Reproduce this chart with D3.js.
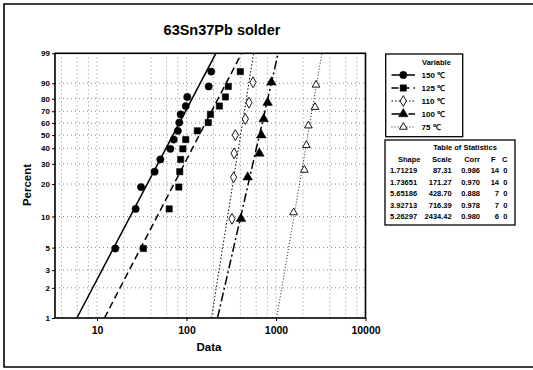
<!DOCTYPE html>
<html>
<head>
<meta charset="utf-8">
<script src="https://cdn.jsdelivr.net/npm/d3@7"></script>
<style>
  html, body { margin: 0; padding: 0; background: #fff; }
  svg { display: block; font-family: "Liberation Sans", Arial, sans-serif; }
</style>
</head>
<body>
<svg id="chart" width="533" height="370"></svg>
<script>
// Weibull probability plot of solder joint lifetimes at five temperatures
const temps = ["150 \u2103", "125 \u2103", "110 \u2103", "100 \u2103", "75 \u2103"];
const shapes = [1.71219, 1.73651, 5.65186, 3.92713, 5.26297];
const scales = [87.31, 171.27, 428.70, 716.39, 2434.42];
const corrs = [0.986, 0.970, 0.888, 0.978, 0.980];
const failures = [14, 14, 7, 7, 6];
const censored = [0, 0, 0, 0, 0];

// observed lifetimes and their plotting positions (percent)
const data150 = [16, 27, 31, 44, 51, 66, 72, 80, 83, 86, 98, 102, 177, 189];
const data125 = [33, 64, 82, 84, 86, 91, 98, 132, 175, 185, 233, 272, 293, 399];
const data110 = [322, 336, 340, 351, 454, 499, 553];
const data100 = [406, 482, 651, 685, 728, 806, 887];
const data75 = [1574, 2072, 2183, 2298, 2728, 2800];
const pct14 = [4.9, 11.8, 18.8, 25.7, 32.6, 39.6, 46.5, 53.5, 60.4, 67.4, 74.3, 81.3, 88.2, 95.1];
const pct7 = [9.5, 23.0, 36.5, 50.0, 63.5, 77.0, 90.5];
const pct6 = [10.9, 26.6, 42.2, 57.8, 73.4, 89.1];

const xTicks = [10, 100, 1000, 10000];
const xGrid = [4, 6, 8, 10, 20, 40, 60, 80, 100, 200, 400, 600, 800, 1000, 2000, 4000, 6000, 8000];
const yTicks = [1, 2, 3, 5, 10, 20, 30, 40, 50, 60, 70, 80, 90, 99];

const series = [
  { values: data150, pct: pct14, symbol: "circle",   dash: null,          width: 1.5, fill: "#000" },
  { values: data125, pct: pct14, symbol: "square",   dash: "7,4",         width: 1.5, fill: "#000" },
  { values: data110, pct: pct7,  symbol: "diamond",  dash: "1.5,2",       width: 1,   fill: "#fff" },
  { values: data100, pct: pct7,  symbol: "triangle", dash: "9,3,2,3",     width: 1.5, fill: "#000" },
  { values: data75,  pct: pct6,  symbol: "tri2",     dash: "1,2",         width: 0.9, fill: "#fff" }
];

const svg = d3.select("#chart");
const W = 533, H = 370;
const plot = { left: 55, right: 365.5, top: 53.3, bottom: 318 };

// outer frame (left, top, bottom edges)
svg.append("path")
  .attr("d", `M${W},4 H4 V367 H${W}`)
  .attr("fill", "none").attr("stroke", "#000").attr("stroke-width", 1.6);

// Weibull probability transform
const wt = p => Math.log(-Math.log(1 - p / 100));
const x = d3.scaleLog().domain([3.39, 10000]).range([plot.left, plot.right]);
const yLin = d3.scaleLinear().domain([wt(1), wt(99)]).range([plot.bottom, plot.top]);
const y = p => yLin(wt(p));

const g = svg.append("g");
g.append("clipPath").attr("id", "clip").append("rect")
  .attr("x", plot.left).attr("y", plot.top)
  .attr("width", plot.right - plot.left).attr("height", plot.bottom - plot.top);

// dotted grid
g.append("g").selectAll("line").data(xGrid).join("line")
  .attr("x1", d => x(d)).attr("x2", d => x(d))
  .attr("y1", plot.top).attr("y2", plot.bottom)
  .attr("stroke", "#888").attr("stroke-width", 1).attr("stroke-dasharray", "1,3");
g.append("g").selectAll("line").data(yTicks.slice(1, -1)).join("line")
  .attr("x1", plot.left).attr("x2", plot.right)
  .attr("y1", d => y(d)).attr("y2", d => y(d))
  .attr("stroke", "#888").attr("stroke-width", 1).attr("stroke-dasharray", "1,3");

// fitted Weibull lines, from shape and scale
const fitLine = (k, lam) => [1, 99].map(p => [x(lam * Math.pow(-Math.log(1 - p / 100), 1 / k)), y(p)]);
const lines = g.append("g").attr("clip-path", "url(#clip)");
series.forEach((s, i) => {
  lines.append("path")
    .attr("d", d3.line()(fitLine(shapes[i], scales[i])))
    .attr("fill", "none").attr("stroke", "#000")
    .attr("stroke-width", s.width)
    .attr("stroke-dasharray", s.dash);
});

// marker shapes
function marker(sel, type, fill) {
  let sym, size;
  if (type === "circle") { sym = d3.symbolCircle; size = 42; }
  else if (type === "square") { sym = d3.symbolSquare; size = 40; }
  else if (type === "diamond") { sym = d3.symbolDiamond; size = 34; }
  else if (type === "triangle") { sym = d3.symbolTriangle; size = 40; }
  else { sym = d3.symbolTriangle; size = 26; }
  sel.append("path")
    .attr("d", d3.symbol().type(sym).size(size)())
    .attr("fill", fill).attr("stroke", "#000")
    .attr("stroke-width", fill === "#fff" ? 0.9 : 0.5);
}

series.forEach(s => {
  s.values.forEach((v, j) => {
    const m = g.append("g").attr("transform", `translate(${x(v)},${y(s.pct[j])})`);
    marker(m, s.symbol, s.fill);
  });
});

// plot frame
g.append("rect")
  .attr("x", plot.left).attr("y", plot.top)
  .attr("width", plot.right - plot.left).attr("height", plot.bottom - plot.top)
  .attr("fill", "none").attr("stroke", "#000").attr("stroke-width", 1.6);

// axes
const xAxis = d3.axisBottom(x).tickValues(xTicks).tickFormat(d3.format("d")).tickSize(3).tickSizeOuter(0);
const xa = svg.append("g").attr("transform", `translate(0,${plot.bottom})`).call(xAxis);
xa.select(".domain").remove();
xa.selectAll("text").attr("font-size", 10.5).attr("font-weight", "bold").attr("fill", "#000").attr("dy", "0.95em");

const yAxis = d3.axisLeft(yLin).tickValues(yTicks.map(wt)).tickFormat((d, i) => yTicks[i]).tickSize(3).tickSizeOuter(0);
const ya = svg.append("g").attr("transform", `translate(${plot.left},0)`).call(yAxis);
ya.select(".domain").remove();
ya.selectAll("text").attr("font-size", 8).attr("font-weight", "bold").attr("fill", "#000").attr("x", -5);

// titles
svg.append("text").attr("x", 222).attr("y", 35).attr("text-anchor", "middle")
  .attr("font-size", 14.5).attr("font-weight", "bold").text("63Sn37Pb solder");
svg.append("text").attr("x", 209).attr("y", 351).attr("text-anchor", "middle")
  .attr("font-size", 11.5).attr("font-weight", "bold").text("Data");
svg.append("text").attr("transform", "translate(31,185) rotate(-90)").attr("text-anchor", "middle")
  .attr("font-size", 11.5).attr("font-weight", "bold").text("Percent");

// legend
const lg = svg.append("g");
lg.append("rect").attr("x", 385.7).attr("y", 54).attr("width", 77).attr("height", 82.7)
  .attr("fill", "#fff").attr("stroke", "#000").attr("stroke-width", 1.3);
lg.append("text").attr("x", 436.5).attr("y", 65).attr("text-anchor", "middle")
  .attr("font-size", 7.5).attr("font-weight", "bold").text("Variable");
series.forEach((s, i) => {
  const yy = 75 + i * 13;
  lg.append("line").attr("x1", 391.5).attr("x2", 415).attr("y1", yy).attr("y2", yy)
    .attr("stroke", "#000").attr("stroke-width", s.width).attr("stroke-dasharray", s.dash);
  const m = lg.append("g").attr("transform", `translate(403.3,${yy})`);
  marker(m, s.symbol, s.fill);
  lg.append("text").attr("x", 421.5).attr("y", yy + 3).attr("font-size", 8)
    .attr("font-weight", "bold").text(temps[i]);
});

// table of statistics
const tb = svg.append("g").attr("font-size", 7.5).attr("font-weight", "bold");
tb.append("rect").attr("x", 385).attr("y", 140).attr("width", 130).attr("height", 85)
  .attr("fill", "#fff").attr("stroke", "#000").attr("stroke-width", 1.3);
tb.append("text").attr("x", 465).attr("y", 149.5).attr("text-anchor", "middle").text("Table of Statistics");
const cols = [
  { x: 398, anchor: "start", head: "Shape" },
  { x: 451.7, anchor: "end", head: "Scale" },
  { x: 480, anchor: "end", head: "Corr" },
  { x: 495.5, anchor: "end", head: "F" },
  { x: 507.5, anchor: "end", head: "C" }
];
cols.forEach(c => tb.append("text").attr("x", c.x).attr("y", 161.8).attr("text-anchor", c.anchor).text(c.head));
shapes.forEach((sh, i) => {
  const yy = 173 + i * 11.6;
  const vals = [sh.toFixed(5), scales[i].toFixed(2), corrs[i].toFixed(3), failures[i], censored[i]];
  const xs = [390, 451.7, 480, 499, 507.5];
  vals.forEach((v, j) => {
    tb.append("text").attr("x", xs[j]).attr("y", yy)
      .attr("text-anchor", j === 0 ? "start" : "end").text(v);
  });
});
</script>
</body>
</html>
